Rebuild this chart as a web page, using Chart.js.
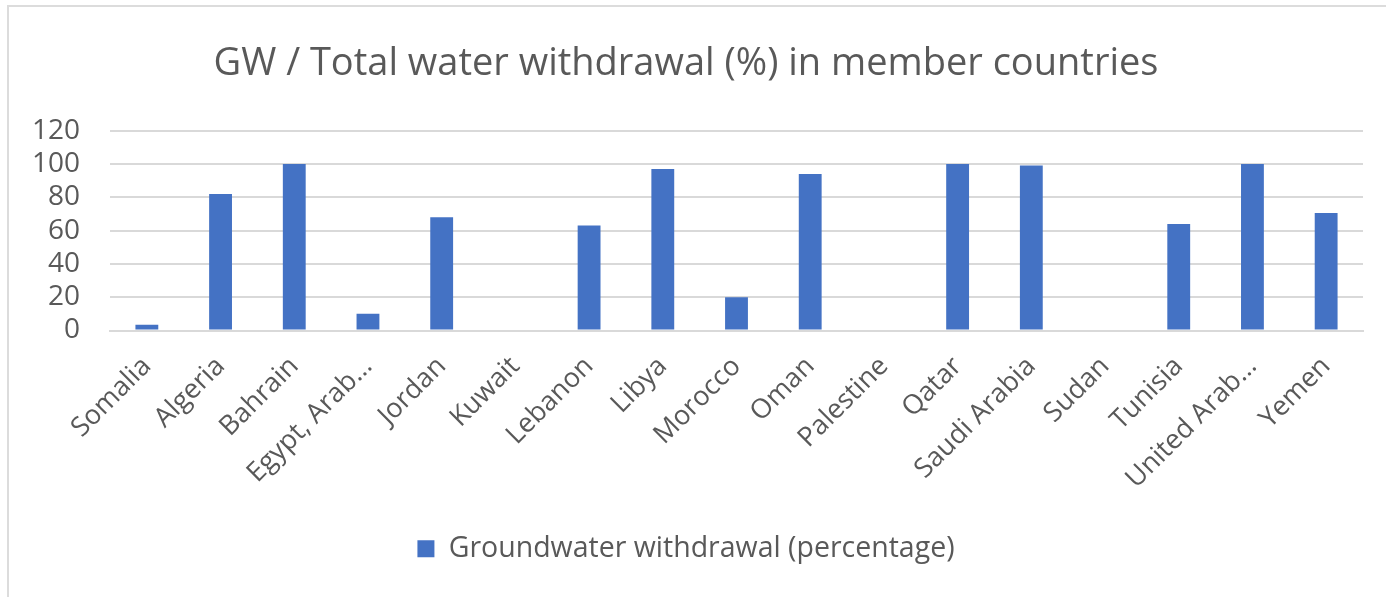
<!DOCTYPE html>
<html>
<head>
<meta charset="utf-8">
<script src="https://cdn.jsdelivr.net/npm/chart.js@4/dist/chart.umd.min.js"></script>
<style>
  html, body { margin: 0; padding: 0; background: #fff; }
  #wrap {
    position: absolute; left: 7px; top: 5px; width: 1379px; height: 592px;
    border-left: 2px solid #dcdcdc; border-top: 2px solid #dcdcdc;
    box-sizing: border-box;
  }
  canvas { display: block; }
</style>
</head>
<body>
<div id="wrap"><canvas id="c" width="1377" height="590"></canvas></div>
<script>
// ---- data ----
const countries = ['Somalia', 'Algeria', 'Bahrain', 'Egypt, Arab\u2026', 'Jordan', 'Kuwait',
  'Lebanon', 'Libya', 'Morocco', 'Oman', 'Palestine', 'Qatar', 'Saudi Arabia', 'Sudan',
  'Tunisia', 'United Arab\u2026', 'Yemen'];
const gwShare = [3.5, 82, 100, 10, 68, 0, 63, 97, 20, 94, 0, 100, 99, 0, 64, 100, 70.5];
const yTicks = [0, 20, 40, 60, 80, 100, 120];

const seriesLabel = 'Groundwater withdrawal (percentage)';
const chartTitle = 'GW / Total water withdrawal (%) in member countries';

const FONT = "'Open Sans', 'Noto Sans', sans-serif";
const GREY = '#595959';

new Chart(document.getElementById('c'), {
  type: 'bar',
  data: {
    labels: countries,
    datasets: [{
      label: seriesLabel,
      data: gwShare,
      backgroundColor: '#4472C4',
      barPercentage: 0.62,
      categoryPercentage: 0.5
    }]
  },
  options: {
    responsive: false,
    animation: false,
    layout: { padding: { left: 0, right: 23, top: 0, bottom: 24 } },
    plugins: {
      title: {
        display: true,
        text: chartTitle,
        color: GREY,
        font: { family: FONT, size: 38, weight: 'normal', lineHeight: 1.2 },
        padding: { top: 34, bottom: 44 }
      },
      legend: {
        position: 'bottom',
        labels: {
          color: GREY,
          font: { family: FONT, size: 28.5 },
          boxWidth: 17, boxHeight: 17,
          padding: 10
        }
      },
      tooltip: { enabled: false }
    },
    scales: {
      x: {
        grid: { display: false },
        border: { color: '#d9d9d9', width: 2 },
        afterFit: axis => { axis.height = 194; },
        ticks: {
          color: GREY,
          font: { family: FONT, size: 27 },
          minRotation: 45, maxRotation: 45,
          padding: 12,
          autoSkip: false
        }
      },
      y: {
        min: 0, max: 120,
        afterBuildTicks: axis => { axis.ticks = yTicks.map(v => ({ value: v })); },
        afterFit: axis => { axis.width = 101; },
        grid: { color: '#d9d9d9', lineWidth: 2, drawTicks: false },
        border: { display: false },
        ticks: {
          color: GREY,
          font: { family: FONT, size: 28 },
          padding: 30,
          autoSkip: false
        }
      }
    }
  }
});
</script>
</body>
</html>
